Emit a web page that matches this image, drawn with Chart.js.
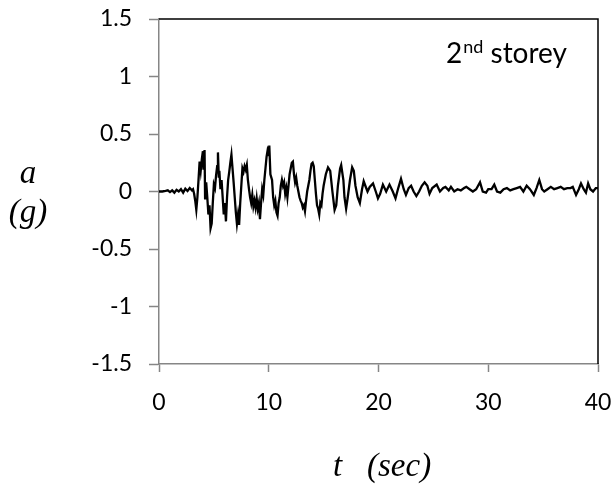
<!DOCTYPE html>
<html><head><meta charset="utf-8">
<script src="https://cdn.jsdelivr.net/npm/chart.js@4/dist/chart.umd.min.js"></script>
<style>html,body{margin:0;padding:0;background:#fff;}#wrap{width:612px;height:484px;position:relative;}</style>
</head><body><div id="wrap"><canvas id="c" width="612" height="484"></canvas></div>
<script>
const timeSec = [0,0.3,0.6,0.8,1.0,1.2,1.4,1.6,1.8,2.0,2.2,2.4,2.6,2.8,3.0,3.1,3.2,
3.3,3.4,3.5,3.6,3.7,3.8,3.9,4.0,4.05,4.1,4.15,4.2,4.3,4.4,4.5,4.6,4.7,4.8,4.9,5.0,5.1,5.2,5.3,5.37,5.45,5.5,5.6,5.7,5.8,5.9,6.0,6.1,6.2,6.3,6.4,6.5,6.6,6.7,6.8,6.9,7.0,7.1,7.2,7.3,7.4,7.5,7.6,7.7,7.8,7.9,8.0,8.1,8.2,8.3,8.4,8.5,8.6,8.7,8.8,8.9,9.0,9.1,9.2,9.3,9.4,9.5,9.6,9.7,9.8,9.9,10.0,10.05,10.15,10.3,10.4,10.5,10.6,10.7,10.8,10.9,11.0,11.1,11.2,11.3,11.4,11.5,11.6,11.7,11.8,11.9,12.0,12.1,12.2,12.3,12.4,12.5,12.6,12.7,12.8,12.9,13.0,13.1,13.2,13.3,13.4,13.5,13.6,13.7,13.8,13.9,14.0,14.1,14.2,14.3,14.4,14.5,14.6,14.7,14.8,14.9,15.0,15.2,15.4,15.6,15.8,16.0,16.15,16.3,16.5,16.6,16.8,16.9,17.05,17.2,17.4,17.6,17.75,17.9,18.1,18.3,18.5,18.65,18.8,19.0,19.2,19.5,19.75,19.95,20.15,20.4,20.7,21.0,21.3,21.55,21.8,22.05,22.3,22.5,22.75,22.97,23.2,23.45,23.7,23.95,24.2,24.45,24.65,24.9,25.3,25.6,25.9,26.1,26.4,26.6,26.9,27.2,27.5,27.8,28.0,28.3,28.6,28.9,29.25,29.5,29.8,30.0,30.3,30.55,30.8,31.1,31.4,31.7,32.0,32.3,32.6,32.9,33.2,33.5,33.8,34.15,34.4,34.65,34.9,35.1,35.4,35.7,36.0,36.3,36.6,36.9,37.2,37.5,37.7,38.0,38.25,38.45,38.7,38.9,39.1,39.3,39.55,39.8,40];
const accelG = [0,0,0.005,0.01,-0.005,0.01,-0.01,0.015,0,0.02,-0.01,0.025,0.005,0.03,0.01,0.02,-0.02,
-0.08,-0.16,-0.05,0.1,0.26,0.18,0.28,0.35,0.2,0.3,0.36,-0.07,0.08,-0.05,-0.2,-0.12,-0.32,-0.28,-0.1,0.06,0.03,0.14,0.22,0.34,0.12,0.18,0.02,0.1,-0.05,-0.2,-0.1,-0.26,-0.05,0.1,0.17,0.25,0.32,0.2,0.08,-0.05,-0.18,-0.28,-0.2,-0.29,-0.1,0.05,0.2,0.17,0.22,0.19,0.23,0.1,0.02,-0.05,-0.1,-0.03,-0.13,-0.08,-0.14,-0.06,-0.15,-0.1,-0.24,-0.1,0.02,-0.03,0.1,0.2,0.3,0.36,0.33,0.4,0.15,0.1,-0.05,-0.12,-0.08,-0.18,-0.21,-0.1,-0.05,0.05,0.1,0.05,0.08,-0.02,0.03,-0.05,0.05,0.15,0.2,0.25,0.26,0.15,0.08,0.12,0.05,0.0,-0.05,-0.08,-0.1,-0.14,-0.12,-0.17,-0.08,0.0,0.05,0.1,0.18,0.24,0.25,0.22,0.1,-0.02,-0.12,-0.15,-0.2,-0.1,-0.12,-0.02,0.05,0.15,0.21,0.18,0.0,-0.16,-0.12,0.05,0.2,0.23,0.1,-0.05,-0.15,-0.05,0.1,0.21,0.18,0.05,-0.05,-0.1,0.02,0.09,0.05,0.0,0.04,0.07,0.0,-0.06,-0.02,0.06,0.0,0.06,0.0,-0.06,0.03,0.11,0.02,-0.03,0.03,0.05,0.0,-0.04,0.0,0.05,0.08,0.05,-0.02,0.03,0.06,0.0,0.03,0.04,0.01,0.04,0.0,0.02,0.01,0.03,0.04,0.02,0.0,0.02,0.08,0.0,-0.01,0.02,0.02,0.06,0.0,-0.01,0.02,0.03,0.01,0.02,0.03,0.04,0.0,0.05,0.02,-0.03,0.03,0.1,0.02,0.0,0.02,0.04,0.02,0.03,0.04,0.02,0.03,0.03,0.04,-0.03,0.02,0.07,0.02,-0.01,0.07,0.02,0.0,0.03,0.03];
const xTickValues = [0,10,20,30,40];
const yTickValues = [-1.5,-1,-0.5,0,0.5,1,1.5];
const xTitle = ['t', '(sec)'];
const yTitle = ['a', '(g)'];
const storeyLabel = ['2', 'nd', ' storey'];

const points = timeSec.map((t,i)=>({x:t,y:accelG[i]}));
const AXIS_GRAY = '#868686';
Chart.defaults.font.family = 'Lato';
Chart.defaults.font.size = 23;
Chart.defaults.color = '#000';

const decor = {
  id:'decor',
  afterDraw(chart){
    const ctx = chart.ctx, a = chart.chartArea;
    ctx.save();
    ctx.strokeStyle = '#000'; ctx.lineWidth = 1.5;
    ctx.beginPath();
    ctx.moveTo(a.left, a.top); ctx.lineTo(a.right, a.top); ctx.lineTo(a.right, a.bottom);
    ctx.stroke();
    ctx.fillStyle = '#000';
    ctx.font = 'italic 33px "Liberation Serif"';
    ctx.textAlign = 'center'; ctx.textBaseline = 'alphabetic';
    ctx.fillText(yTitle[0], 28, 183);
    ctx.fillText(yTitle[1], 28, 222);
    ctx.textAlign = 'left';
    ctx.fillText(xTitle[0], 333, 476);
    ctx.fillText(xTitle[1], 367, 476);
    let x = 446, y = 63;
    ctx.font = '28px Lato';
    ctx.fillText(storeyLabel[0], x, y); x += ctx.measureText(storeyLabel[0]).width + 1;
    ctx.font = '18px Lato';
    ctx.fillText(storeyLabel[1], x, y - 10); x += ctx.measureText(storeyLabel[1]).width;
    ctx.font = '28px Lato';
    ctx.fillText(storeyLabel[2], x, y);
    ctx.restore();
  }
};

new Chart(document.getElementById('c'), {
  type:'scatter',
  data:{datasets:[{data:points, showLine:true, borderColor:'#000', borderWidth:2.3, pointRadius:0, tension:0, fill:false}]},
  options:{
    responsive:false, animation:false, devicePixelRatio:1,
    layout:{padding:{top:19,right:14,left:0,bottom:0}},
    plugins:{legend:{display:false}, tooltip:{enabled:false}},
    scales:{
      x:{type:'linear', min:0, max:40,
        afterBuildTicks:s=>{s.ticks = xTickValues.map(v=>({value:v}));},
        afterFit:s=>{s.height = 120; s.paddingLeft = 0; s.paddingRight = 0;},
        grid:{drawOnChartArea:false, color:AXIS_GRAY, tickLength:8, tickWidth:1.5},
        border:{color:AXIS_GRAY, width:1.5},
        ticks:{font:{family:'Lato', size:23}, color:'#000', padding:17, maxRotation:0, callback:v=>String(v)}},
      y:{type:'linear', min:-1.5, max:1.5,
        afterBuildTicks:s=>{s.ticks = yTickValues.map(v=>({value:v}));},
        afterFit:s=>{s.width = 159; s.paddingTop = 0; s.paddingBottom = 0;},
        grid:{drawOnChartArea:false, color:AXIS_GRAY, tickLength:10, tickWidth:1.5},
        border:{color:AXIS_GRAY, width:1.5},
        ticks:{font:{family:'Lato', size:23}, color:'#000', padding:17, callback:v=>String(v)}}
    }
  },
  plugins:[decor]
});
</script></body></html>
